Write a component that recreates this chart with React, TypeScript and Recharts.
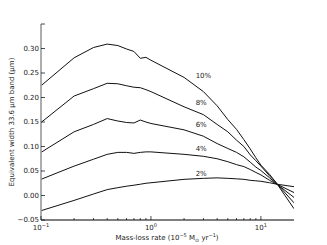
import React from 'react';
import { LineChart, Line, XAxis, YAxis, ReferenceDot } from 'recharts';

// mass-loss rate, 10^-5 Msun/yr
const massLoss = [0.1, 0.2, 0.3, 0.4, 0.5, 0.6, 0.7, 0.8, 0.9, 1, 2, 3, 4, 5, 6, 7, 8, 9, 10, 12, 14, 20];

const ew10 = [0.224, 0.281, 0.302, 0.309, 0.306, 0.299, 0.294, 0.280, 0.282, 0.276, 0.241, 0.212, 0.183, 0.155, 0.135, 0.114, 0.095, 0.077, 0.062, 0.043, 0.024, -0.027];
const ew8 = [0.149, 0.203, 0.218, 0.229, 0.228, 0.224, 0.221, 0.220, 0.216, 0.212, 0.181, 0.165, 0.145, 0.130, 0.113, 0.100, 0.083, 0.071, 0.060, 0.040, 0.024, -0.015];
const ew6 = [0.088, 0.130, 0.145, 0.157, 0.152, 0.149, 0.148, 0.154, 0.150, 0.147, 0.134, 0.121, 0.106, 0.096, 0.088, 0.079, 0.068, 0.058, 0.051, 0.036, 0.023, -0.004];
const ew4 = [0.033, 0.060, 0.074, 0.084, 0.088, 0.088, 0.086, 0.088, 0.089, 0.089, 0.084, 0.080, 0.075, 0.069, 0.063, 0.059, 0.053, 0.047, 0.042, 0.031, 0.023, 0.006];
const ew2 = [-0.031, -0.010, 0.003, 0.012, 0.016, 0.019, 0.021, 0.023, 0.025, 0.026, 0.033, 0.035, 0.036, 0.035, 0.034, 0.033, 0.031, 0.030, 0.029, 0.026, 0.023, 0.018];

const seriesKeys = ['p10', 'p8', 'p6', 'p4', 'p2'];
const seriesValues = [ew10, ew8, ew6, ew4, ew2];

// curve annotations
const curveLabels = ['10%', '8%', '6%', '4%', '2%'];
const curveLabelX = [2.55, 2.55, 2.55, 2.55, 2.55];
const curveLabelY = [0.2445, 0.1894, 0.1453, 0.0949, 0.0440];

const yTicks = [-0.05, 0, 0.05, 0.1, 0.15, 0.2, 0.25, 0.3, 0.35];
const xMajor = [0.1, 1, 10];
const xMinor = [0.2, 0.3, 0.4, 0.5, 0.6, 0.7, 0.8, 0.9, 2, 3, 4, 5, 6, 7, 8, 9];
const xAllTicks = [...xMajor, ...xMinor].sort((a, b) => a - b);

const data = massLoss.map((m, i) => {
  const row: Record<string, number> = { m };
  seriesKeys.forEach((k, j) => { row[k] = seriesValues[j][i]; });
  return row;
});

const FONT = 'DejaVu Sans, sans-serif';
const TXT = '#222';

const isMajor = (v: number) => xMajor.some(t => Math.abs(t - v) < 1e-9);

const BottomTick = (props: any) => {
  const { x, y, payload } = props;
  const major = isMajor(payload.value);
  const exp = Math.round(Math.log10(payload.value));
  return (
    <g>
      <line x1={x} x2={x} y1={y} y2={y - (major ? 4 : 2)} stroke="#000" strokeWidth={0.7} />
      {major && (
        <text x={x} y={y + 10} textAnchor="middle" fontFamily={FONT} fontSize={7} fill={TXT}>
          <tspan>10</tspan>
          <tspan dy={-3.5} fontSize={5}>{exp < 0 ? '\u2212' + Math.abs(exp) : exp}</tspan>
        </text>
      )}
    </g>
  );
};

const TopTick = (props: any) => {
  const { x, y, payload } = props;
  const major = isMajor(payload.value);
  return <line x1={x} x2={x} y1={y} y2={y + (major ? 4 : 2)} stroke="#000" strokeWidth={0.7} />;
};

const LeftTick = (props: any) => {
  const { x, y, payload } = props;
  const v = payload.value;
  const showLabel = v < 0.34;
  const label = (v < 0 ? '\u2212' : '') + Math.abs(v).toFixed(2);
  return (
    <g>
      <line x1={x} x2={x + 4} y1={y} y2={y} stroke="#000" strokeWidth={0.7} />
      {showLabel && (
        <text x={x - 2} y={y} dy="0.35em" textAnchor="end" fontFamily={FONT} fontSize={7} fill={TXT}>
          {label}
        </text>
      )}
    </g>
  );
};

const RightTick = (props: any) => {
  const { x, y } = props;
  return <line x1={x} x2={x - 4} y1={y} y2={y} stroke="#000" strokeWidth={0.7} />;
};

const CurveLabel = (props: any) => {
  const { cx, cy, text } = props;
  return (
    <text x={cx} y={cy} dy="0.35em" textAnchor="start" fontFamily={FONT} fontSize={7} fill={TXT}>
      {text}
    </text>
  );
};

export default function App() {
  return (
    <div style={{ position: 'absolute', left: 0, top: 0, width: 327, height: 245, background: '#fff' }}>
      <LineChart width={327} height={245} data={data} margin={{ top: 24, right: 33, bottom: 0, left: 0 }}>
        <XAxis
          xAxisId="b"
          dataKey="m"
          type="number"
          scale="log"
          domain={[0.1, 20]}
          allowDataOverflow
          ticks={xAllTicks}
          interval={0}
          tickSize={0}
          tickMargin={0}
          height={25}
          axisLine={{ stroke: '#000', strokeWidth: 1.2 }}
          tick={<BottomTick />}
        />
        <XAxis
          xAxisId="t"
          orientation="top"
          dataKey="m"
          type="number"
          scale="log"
          domain={[0.1, 20]}
          allowDataOverflow
          ticks={xAllTicks}
          interval={0}
          tickSize={0}
          tickMargin={0}
          height={0}
          axisLine={{ stroke: '#000', strokeWidth: 1.2 }}
          tick={<TopTick />}
        />
        <YAxis
          yAxisId="l"
          type="number"
          domain={[-0.05, 0.35]}
          allowDataOverflow
          ticks={yTicks}
          interval={0}
          tickSize={0}
          tickMargin={0}
          width={41}
          axisLine={{ stroke: '#999', strokeWidth: 1.6 }}
          tick={<LeftTick />}
        />
        <YAxis
          yAxisId="r"
          orientation="right"
          type="number"
          domain={[-0.05, 0.35]}
          allowDataOverflow
          ticks={yTicks}
          interval={0}
          tickSize={0}
          tickMargin={0}
          width={0}
          axisLine={{ stroke: '#999', strokeWidth: 1.6 }}
          tick={<RightTick />}
        />
        {seriesKeys.map(k => (
          <Line
            key={k}
            xAxisId="b"
            yAxisId="l"
            dataKey={k}
            type="linear"
            stroke="#111"
            strokeWidth={1}
            dot={false}
            isAnimationActive={false}
          />
        ))}
        {curveLabels.map((t, i) => (
          <ReferenceDot
            key={t}
            xAxisId="b"
            yAxisId="l"
            x={curveLabelX[i]}
            y={curveLabelY[i]}
            r={0}
            shape={(p: any) => <CurveLabel {...p} text={t} />}
          />
        ))}
        <text x={12} y={122} transform="rotate(-90 12 122)" textAnchor="middle" dy="0.35em" fontFamily={FONT} fontSize={7} fill={TXT}>
          Equivalent width 33.6 {'\u03bc'}m band ({'\u03bc'}m)
        </text>
        <text x={167} y={240} textAnchor="middle" fontFamily={FONT} fontSize={7} fill={TXT}>
          <tspan>Mass-loss rate (10</tspan>
          <tspan dy={-3.5} fontSize={5}>{'\u22125'}</tspan>
          <tspan dy={3.5}> M</tspan>
          <tspan dy={1.5} fontSize={5}>{'\u2299'}</tspan>
          <tspan dy={-1.5}> yr</tspan>
          <tspan dy={-3.5} fontSize={5}>{'\u22121'}</tspan>
          <tspan dy={3.5}>)</tspan>
        </text>
      </LineChart>
    </div>
  );
}
